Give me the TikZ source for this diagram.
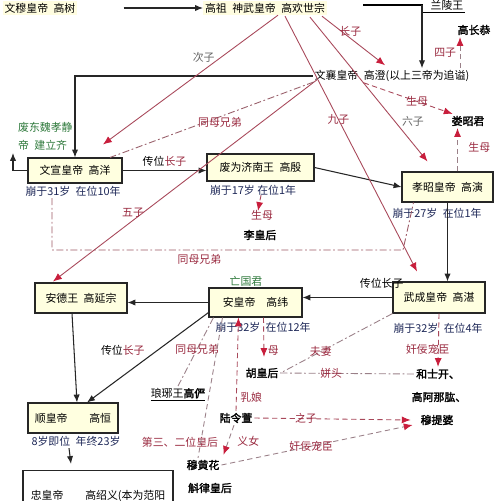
\documentclass[tikz,border=0pt]{standalone}
\usepackage{fontspec}
\setmainfont{Noto Sans CJK SC}[AutoFakeBold=2]
\usepackage{xcolor}
\usetikzlibrary{positioning, arrows.meta, calc}
\definecolor{kinred}{HTML}{A8485A}
\definecolor{tipred}{HTML}{C81E3C}
\definecolor{labred}{HTML}{9A2A40}
\definecolor{kingreen}{HTML}{2F7A3C}
\definecolor{subnavy}{HTML}{1E2858}
\definecolor{boxfill}{HTML}{FFFFE0}
\definecolor{dashgray}{HTML}{9A8088}

\begin{document}
\begin{tikzpicture}[x=0.02cm, y=-0.02cm,
    every node/.style={font=\fontsize{6.2}{7.4}\selectfont, inner sep=1pt},
    nm/.style={font=\fontsize{6.2}{7.4}\selectfont\bfseries},
    king/.style={draw=black!85, fill=boxfill, line width=0.6pt, minimum height=0.58cm},
    subt/.style={text=subnavy},
    lab/.style={text=labred},
    blk/.style={draw=black!85, line width=0.6pt, -{Latex[length=4.5pt, width=3.6pt]}},
    redtip/.style={-{Latex[length=5pt, width=4pt, color=tipred]}},
    son/.style={draw=kinred, line width=0.5pt, redtip},
    rdash/.style={draw=kinred, line width=0.5pt, dash pattern=on 3pt off 2pt, redtip},
    gdash/.style={draw=dashgray, line width=0.5pt, dash pattern=on 3pt off 2pt},
    ddot/.style={draw=dashgray, line width=0.5pt, dash pattern=on 4pt off 1.5pt on 1pt off 1.5pt}]
  \useasboundingbox (0,0) rectangle (502,500);
  \clip (0,0) rectangle (502,500);
  \fill[white] (0,0) rectangle (502,500);

  % ancestors
  \node[fill=yellow!12] (gs) at (40,8) {文穆皇帝\enspace 高树};
  \node[fill=yellow!12] (gh) at (265,8) {高祖\enspace 神武皇帝\enspace 高欢世宗};
  \node (lw) at (447,5) {兰陵王};
  \node[nm] (gcg) at (474,30) {高长恭};
  \node (wx) at (392,76) {文襄皇帝\enspace 高澄(以上三帝为追谥)};
  \node[nm] (lzj) at (468,121) {娄昭君};
  \node[text=kingreen, align=left, anchor=north west] (fd) at (16,120) {废东魏孝静\\[2.8pt]帝\enspace 建立齐};

  % emperors
  \node[king, minimum width=1.88cm, minimum height=0.5cm] (wxd) at (75,170.5) {文宣皇帝\enspace 高洋};
  \node[subt] (wxs) at (73,191) {崩于31岁\enspace 在位10年};
  \node[king, minimum width=2.14cm, minimum height=0.54cm] (jn) at (260.5,167.5) {废为济南王\enspace 高殷};
  \node[subt] (jns) at (253,190) {崩于17岁 在位1年};
  \node[lab] (smj) at (262,215) {生母};
  \node[nm] (lhh) at (260,235) {李皇后};
  \node[king, minimum width=1.82cm, minimum height=0.6cm] (xz) at (447.5,187) {孝昭皇帝\enspace 高演};
  \node[subt] (xzs) at (437,213) {崩于27岁\enspace 在位1年};
  \node[king, minimum width=1.84cm, minimum height=0.62cm] (wc) at (439,297.5) {武成皇帝\enspace 高湛};
  \node[subt] (wcs) at (438,328) {崩于32岁\enspace 在位4年};
  \node[king, minimum width=1.86cm] (ah) at (255.5,302.5) {安皇帝\quad 高纬};
  \node[text=kingreen] (wgj) at (246,281) {亡国君};
  \node[subt] (ahs) at (263,327) {崩于32岁\enspace 在位12年};
  \node[king, minimum width=1.84cm, minimum height=0.6cm] (ad) at (81,298) {安德王\enspace 高延宗};
  \node[king, minimum width=1.8cm, minimum height=0.6cm] (sh) at (73,418) {顺皇帝\qquad 高恒};
  \node[subt] (shs) at (76,441) {8岁即位\enspace 年终23岁};
  \node[king, fill=white, minimum width=3cm, minimum height=1cm, anchor=north] (zh) at (98,470) {忠皇帝\qquad 高绍义(本为范阳};

  % court
  \node (lyw) at (178,395) {\underline{琅琊王\textbf{高俨}}};
  \node[nm] (hhh) at (262,373) {胡皇后};
  \node[nm] (hsk) at (438,374) {和士开、};
  \node[nm] (gan) at (439,397) {高阿那肱、};
  \node[nm] (mtp) at (437,420) {穆提婆};
  \node[nm] (llx) at (236,418) {陆令萱};
  \node[nm] (mhh) at (203,465) {穆黄花};
  \node[nm] (hlh) at (210,488) {斛律皇后};
  \node[lab] (dsh) at (180,442) {第三、二位皇后};

  \coordinate (lwa) at (363,5);
  \coordinate (lwc) at (422,5);
  \coordinate (fdt) at (13,153);
  \coordinate (tmb) at (403,250);
  \coordinate (szt) at ($(gcg.south)+(-14,0)$);

  \draw[blk] ($(gs.east)+(46,0)$) -- (gh.west);
  \draw[line width=0.6pt] (lwa) -- (lwc) |- (lw.south east);
  \draw[blk] (lwc) -- (lwc |- wx.north);
  \draw[blk] (wx.west) -| (wxd.north);
  \draw[blk] (wxd.west) -| (fdt);
  \draw[blk] (wxd.east) -- node[above=1pt] (cw1) {传位\textcolor{labred}{长子}} (wxd.east -| jn.west);
  \draw[blk] (jn.east) -- (xz.west);
  \draw[blk] (xz.south) -- (xz.south |- wc.north);
  \draw[blk] (wc.west) -- node[pos=0.12, above=4pt] (cw2) {传位长子} (wc.west -| ah.east);
  \draw[blk] (ah.west) -- (ah.west -| ad.east);
  \draw[blk] ($(ad.south)+(-9,0)$) -- ($(sh.north)+(4,0)$);
  \draw[blk] ($(ah.south west)+(0,-5)$) -- node[pos=0.42, left=6pt] (cw3) {传位\textcolor{labred}{长子}} ($(sh.north)+(14,0)$);
  \draw[blk] ($(shs.south)+(-7,0)$) -- ($(zh.north)+(-27,-6)$);

  % sons
  \draw[son] ($(gh.south)+(13,0)$) -- node[pos=0.33, anchor=east, xshift=-2pt, text=black!60] (lcz) {次子} ($(wxd.north)+(28,-13)$);
  \draw[son] ($(gh.south)+(57,1)$) -- node[pos=0.45, above=0pt, lab] (lzz) {长子} ($(wx.north)+(-7,-3)$);
  \draw[son] ($(gh.south)+(45,2)$) -- node[pos=0.72, right=3pt, text=black!60] (llz) {六子} ($(xz.north)+(-20,-10)$);
  \draw[son] ($(gh.south)+(20,1)$) -- node[pos=0.405, lab] (ljz) {九子} ($(wc.north)+(-22,-10)$);
  \draw[son] ($(wx.west)+(4,4)$) -- node[pos=0.66, left=-2pt, lab] (lwz) {五子} ($(ad.north)+(-28,-1)$);

  % kin
  \draw[ddot, draw=kinred!60!gray] ($(wx.west)+(1,6)$) -- node[pos=0.46, below=-1pt, lab] (ltm1) {同母兄弟} ($(wxd.north)+(35,0)$);
  \draw[rdash] ($(wx.south west)+(51,-1)$) -- node[pos=0.6, lab] (lsm1) {生母} ($(lzj.north west)+(3,0)$);
  \draw[gdash, redtip] (szt |- wx.north) -- node[left=1pt, lab] (lsz) {四子} (szt);
  \draw[gdash, redtip] ($(xz.north)+(10,0)$) -- node[pos=0.55, right=5pt, lab] (lsm2) {生母} ($(xz.north |- lzj.south)+(10,0)$);
  \draw[rdash] ($(jns.south)+(8,-2)$) -- ($(smj.north)+(-4,3)$);
  \draw[ddot, draw=kinred!70!gray] ($(wxs.south)+(-21,0)$) |- node[pos=0.71, below=1pt, lab] (ltm2) {同母兄弟} (tmb) -- ($(xz.south west)+(12,0)$);

  \draw[ddot] ($(ah.south)+(-42,0)$) -- node[pos=0.46, lab] (ltm3) {同母兄弟} (lyw.north);
  \draw[gdash] ($(ah.south)+(-33,0)$) -- ($(mhh.north)+(-5,0)$);
  \draw[rdash] (llx.north) -- node[pos=0.15, right=1pt, lab] (lrn) {乳娘} ($(ah.south)+(-17,0)$);
  \draw[rdash] ($(ah.south)+(8,0)$) -- node[pos=0.85, right=1pt, lab] (lmu) {母} ($(hhh.north)+(2,-9)$);
  \draw[gdash, redtip] ($(llx.south)+(-2,0)$) -- node[pos=0.55, right=4pt, lab] (lyn) {义女} ($(mhh.north east)+(2,-3)$);
  \draw[ddot] (wc.south west) -- node[pos=0.64, lab] (lfq) {夫妻} (hhh.east);
  \draw[ddot] (hhh.east) -- node[pos=0.38, lab] (lpt) {姘头} (hsk.west);
  \draw[rdash] (wc.south) -- node[pos=0.67, xshift=-6pt, lab] (ljn1) {奸佞宠臣} (hsk.north);
  \draw[rdash] (llx.east) -- node[pos=0.33, lab] (lzz2) {之子} ($(mtp.west)+(-8,0)$);
  \draw[gdash, redtip] (mhh.east) -- node[pos=0.47, lab] (ljn2) {奸佞宠臣} ($(mtp.west)+(-6,5)$);
\end{tikzpicture}
\end{document}
